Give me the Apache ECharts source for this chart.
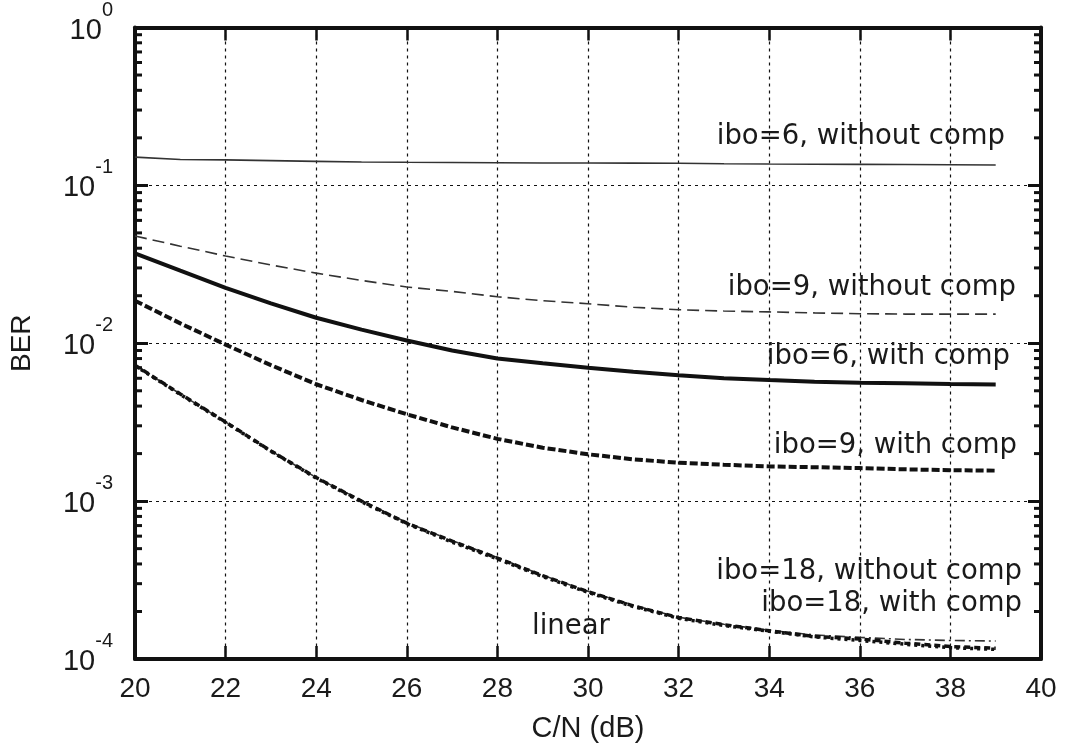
<!DOCTYPE html>
<html>
<head>
<meta charset="utf-8">
<script src="https://cdn.jsdelivr.net/npm/echarts@6/dist/echarts.min.js"></script>
<style>
  html, body { margin: 0; padding: 0; background: #fff; }
  #chart { width: 1068px; height: 753px; }
</style>
</head>
<body>
<div id="chart"></div>
<script>
// C/N in dB
const cn = [20, 21, 22, 23, 24, 25, 26, 27, 28, 29, 30, 31, 32, 33, 34, 35, 36, 37, 38, 39];

// BER curves
const ibo6Without = [0.151, 0.146, 0.145, 0.1435, 0.142, 0.1406, 0.140, 0.1395, 0.139, 0.1387,
                     0.1385, 0.1383, 0.138, 0.137, 0.1365, 0.1362, 0.1358, 0.1355, 0.135, 0.1345];
const ibo9Without = [0.0478, 0.0412, 0.0357, 0.0313, 0.0278, 0.0250, 0.0227, 0.0213, 0.0197, 0.0186,
                     0.0178, 0.0169, 0.0163, 0.0160, 0.0158, 0.01557, 0.01539, 0.0153, 0.0153, 0.0153];
const ibo6With = [0.0371, 0.0288, 0.0224, 0.0179, 0.0145, 0.0122, 0.0104, 0.0090, 0.0080, 0.00748,
                  0.0070, 0.0066, 0.00626, 0.0060, 0.00585, 0.00571, 0.00563, 0.00557, 0.00551, 0.00547];
const ibo9With = [0.0186, 0.01337, 0.0098, 0.00727, 0.0055, 0.00437, 0.00355, 0.00293, 0.00248, 0.00218,
                  0.00198, 0.00184, 0.00175, 0.0017, 0.00166, 0.00164, 0.00162, 0.00159, 0.00157, 0.00156];
const ibo18Without = [7.26e-3, 4.77e-3, 3.17e-3, 2.08e-3, 1.41e-3, 1.01e-3, 7.31e-4, 5.63e-4, 4.40e-4, 3.39e-4,
                      2.69e-4, 2.19e-4, 1.84e-4, 1.66e-4, 1.52e-4, 1.42e-4, 1.37e-4, 1.33e-4, 1.31e-4, 1.30e-4];
const ibo18With = [7.26e-3, 4.77e-3, 3.17e-3, 2.08e-3, 1.41e-3, 1.00e-3, 7.25e-4, 5.58e-4, 4.36e-4, 3.37e-4,
                   2.67e-4, 2.17e-4, 1.83e-4, 1.65e-4, 1.51e-4, 1.39e-4, 1.34e-4, 1.26e-4, 1.20e-4, 1.17e-4];
const linear = [7.2e-3, 4.74e-3, 3.15e-3, 2.07e-3, 1.40e-3, 0.99e-3, 7.2e-4, 5.5e-4, 4.3e-4, 3.33e-4,
                2.64e-4, 2.15e-4, 1.81e-4, 1.63e-4, 1.50e-4, 1.38e-4, 1.31e-4, 1.24e-4, 1.18e-4, 1.15e-4];

const pairs = arr => cn.map((x, i) => [x, arr[i]]);

// minor decade ticks 2..9 for the log axis
const minorVals = [];
for (let e = -4; e < 0; e++) {
  for (let m = 2; m <= 9; m++) minorVals.push([20, m * Math.pow(10, e)]);
}

const tickFont = 'Liberation Sans, Arial, Helvetica, sans-serif';
const labelFont = 'DejaVu Sans, Verdana, sans-serif';

const chart = echarts.init(document.getElementById('chart'), null, { renderer: 'canvas' });

const gridLine = { show: true, lineStyle: { color: '#111', width: 1.2, type: [3, 4] } };

function curve(name, arr, width, color, type) {
  return {
    name, type: 'line', data: pairs(arr), showSymbol: false, symbol: 'none',
    smooth: false, clip: false, z: 5,
    lineStyle: { width, color, type }
  };
}

const annotations = [
  { text: 'ibo=6, without comp', x: 1005, y: 137, align: 'right' },
  { text: 'ibo=9, without comp', x: 1016, y: 288, align: 'right' },
  { text: 'ibo=6, with comp', x: 1010, y: 357, align: 'right' },
  { text: 'ibo=9, with comp', x: 1017, y: 446, align: 'right' },
  { text: 'ibo=18, without comp', x: 1022, y: 572, align: 'right' },
  { text: 'ibo=18, with comp', x: 1022, y: 604, align: 'right' },
  { text: 'linear', x: 532, y: 627, align: 'left' }
];

chart.setOption({
  backgroundColor: '#fff',
  animation: false,
  grid: { left: 133, right: 27, top: 25, bottom: 94, containLabel: false },
  xAxis: [{
    type: 'value', min: 20, max: 40, interval: 2, position: 'bottom',
    name: 'C/N (dB)', nameLocation: 'middle', nameGap: 55,
    nameTextStyle: { fontFamily: tickFont, fontSize: 29, color: '#1a1a1a' },
    axisLine: { show: true, onZero: false, lineStyle: { color: '#111', width: 4 } },
    axisTick: { show: true, inside: true, length: 13, lineStyle: { color: '#111', width: 2.5 } },
    axisLabel: { margin: 16, fontFamily: tickFont, fontSize: 28, color: '#1a1a1a',
                 formatter: v => String(v) },
    splitLine: gridLine
  }, {
    type: 'value', min: 20, max: 40, interval: 2, position: 'top',
    axisLine: { show: true, onZero: false, lineStyle: { color: '#111', width: 4 } },
    axisTick: { show: true, inside: true, length: 13, lineStyle: { color: '#111', width: 2.5 } },
    axisLabel: { show: false },
    splitLine: { show: false }
  }],
  yAxis: [{
    type: 'log', logBase: 10, min: 1e-4, max: 1, position: 'left',
    name: 'BER', nameLocation: 'middle', nameGap: 99, nameRotate: 90,
    nameTextStyle: { fontFamily: tickFont, fontSize: 28, color: '#1a1a1a' },
    axisLine: { show: true, onZero: false, lineStyle: { color: '#111', width: 4 } },
    axisTick: { show: true, inside: true, length: 13, lineStyle: { color: '#111', width: 3 } },
    axisLabel: {
      margin: 22, color: '#1a1a1a', padding: [6, 0, 0, 0],
      formatter: v => '{b|10}{s|' + Math.round(Math.log10(v)) + '}',
      rich: {
        b: { fontFamily: tickFont, fontSize: 29, lineHeight: 29, verticalAlign: 'bottom', color: '#1a1a1a' },
        s: { fontFamily: tickFont, fontSize: 20, lineHeight: 20, verticalAlign: 'bottom',
             padding: [0, 0, 25, 0], color: '#1a1a1a' }
      }
    },
    splitLine: gridLine
  }, {
    type: 'log', logBase: 10, min: 1e-4, max: 1, position: 'right',
    axisLine: { show: true, onZero: false, lineStyle: { color: '#111', width: 4 } },
    axisTick: { show: true, inside: true, length: 13, lineStyle: { color: '#111', width: 3 } },
    axisLabel: { show: false },
    splitLine: { show: false }
  }],
  series: [
    curve('ibo=6, without comp', ibo6Without, 1.6, '#333', 'solid'),
    curve('ibo=9, without comp', ibo9Without, 1.6, '#333', [12, 6]),
    curve('ibo=6, with comp', ibo6With, 4, '#111', 'solid'),
    curve('ibo=9, with comp', ibo9With, 4, '#111', [8, 3]),
    curve('ibo=18, without comp', ibo18Without, 1.6, '#333', [10, 4, 2, 4]),
    curve('ibo=18, with comp', ibo18With, 3.5, '#111', [6, 4]),
    curve('linear', linear, 3.5, '#111', [3, 4]),
    {
      // minor log ticks drawn on both vertical edges
      type: 'custom', data: minorVals, silent: true, z: 6, clip: false,
      encode: { x: 0, y: 1 },
      renderItem: (params, api) => {
        const v = api.value(1);
        const p = api.coord([20, v]);
        const q = api.coord([40, v]);
        const st = { stroke: '#111', lineWidth: 3 };
        return {
          type: 'group',
          children: [
            { type: 'line', shape: { x1: p[0], y1: p[1], x2: p[0] + 7, y2: p[1] }, style: st },
            { type: 'line', shape: { x1: q[0] - 7, y1: q[1], x2: q[0], y2: q[1] }, style: st }
          ]
        };
      }
    }
  ],
  graphic: annotations.map(a => ({
    type: 'text', x: a.x, y: a.y, z: 10,
    style: {
      text: a.text, fill: '#1a1a1a', font: '27.5px ' + labelFont,
      textAlign: a.align, textVerticalAlign: 'middle'
    }
  }))
});
</script>
</body>
</html>
